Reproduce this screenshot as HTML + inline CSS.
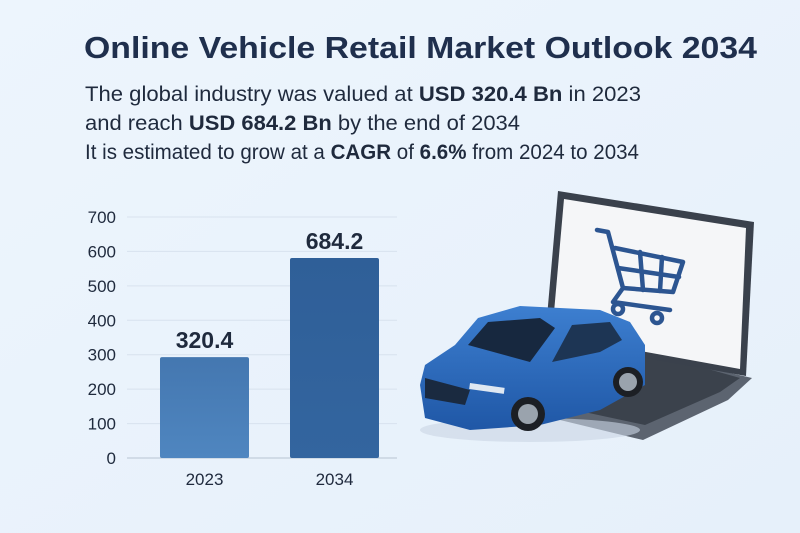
<!DOCTYPE html>
<html><head><meta charset="utf-8"><style>
html,body{margin:0;padding:0;width:800px;height:533px;overflow:hidden;background:#eaf3fc;font-family:"Liberation Sans",sans-serif;}
</style></head><body>
<svg width="800" height="533" viewBox="0 0 800 533" xmlns="http://www.w3.org/2000/svg">
<defs>
<linearGradient id="bg" x1="0" y1="0" x2="1" y2="1"><stop offset="0" stop-color="#edf5fd"/><stop offset="1" stop-color="#e6f0fa"/></linearGradient>
<linearGradient id="b1" x1="0" y1="0" x2="0" y2="1"><stop offset="0" stop-color="#4477b0"/><stop offset="1" stop-color="#4f86c0"/></linearGradient>
<linearGradient id="b2" x1="0" y1="0" x2="0" y2="1"><stop offset="0" stop-color="#2f5f98"/><stop offset="1" stop-color="#33659f"/></linearGradient>
<linearGradient id="car" x1="0" y1="0" x2="0" y2="1"><stop offset="0" stop-color="#3d7fd0"/><stop offset="1" stop-color="#1f57a6"/></linearGradient>
</defs>
<rect width="800" height="533" fill="url(#bg)"/>
<text x="84" y="58" font-size="31" font-weight="bold" fill="#1f2f4d" textLength="673" lengthAdjust="spacingAndGlyphs">Online Vehicle Retail Market Outlook 2034</text>
<g font-size="21" fill="#1f2a3d">
<text x="85" y="101" textLength="556" lengthAdjust="spacingAndGlyphs">The global industry was valued at <tspan font-weight="bold">USD 320.4 Bn</tspan> in 2023</text>
<text x="85" y="130" textLength="435" lengthAdjust="spacingAndGlyphs">and reach <tspan font-weight="bold">USD 684.2 Bn</tspan> by the end of 2034</text>
<text x="85" y="159" textLength="554" lengthAdjust="spacingAndGlyphs">It is estimated to grow at a <tspan font-weight="bold">CAGR</tspan> of <tspan font-weight="bold">6.6%</tspan> from 2024 to 2034</text>
</g>
<g id="chart"></g>
<g>
<polygon points="640,352 752,378 728,400 643,440 560,420" fill="#5c6470"/>
<polygon points="648,352 740,378 720,392 645,425 575,410" fill="#3b424c"/>
<polygon points="558,191 754,222 746,376 545,340" fill="#3a414c"/>
<polygon points="564,199 746,228 740,369 552,335" fill="#f5f6f8"/>
<g stroke="#2c5591" stroke-width="4.5" fill="none" stroke-linecap="round" stroke-linejoin="round">
<polyline points="597,230 608,232 623,288 673,292 683,262 615,248"/>
<line x1="640" y1="252" x2="643" y2="290"/><line x1="662" y1="257" x2="660" y2="291"/>
<line x1="618" y1="268" x2="679" y2="277"/>
<polyline points="623,288 613,302 670,310"/>
<circle cx="618" cy="309" r="5"/><circle cx="657" cy="318" r="5"/>
</g>
</g>
<g>
<ellipse cx="530" cy="430" rx="110" ry="12" fill="#c9d6e4" opacity="0.6"/>
<path d="M420,385 L425,365 L455,345 L478,318 L520,306 L600,310 L630,322 L645,345 L645,385 L600,410 L540,425 L470,430 L425,418 Z" fill="url(#car)"/>
<path d="M468,345 L488,322 L540,318 L555,328 L530,362 Z" fill="#17283f"/>
<path d="M552,362 L572,325 L610,322 L622,340 L600,352 Z" fill="#1d3554"/>
<path d="M425,378 L470,390 L465,405 L425,398 Z" fill="#1a2a40"/>
<rect x="470" y="383" width="35" height="6" fill="#dfe8f2" transform="rotate(8 470 383)"/>
<circle cx="528" cy="414" r="17" fill="#1c1f24"/>
<circle cx="528" cy="414" r="10" fill="#9aa3ad"/>
<circle cx="628" cy="382" r="15" fill="#1c1f24"/>
<circle cx="628" cy="382" r="9" fill="#9aa3ad"/>
</g>
<script>
var categories = ["2023", "2034"];
var barValues = [293, 581];
var valueLabels = ["320.4", "684.2"];
var yTicks = [0, 100, 200, 300, 400, 500, 600, 700];
var NS = "http://www.w3.org/2000/svg";
var g = document.getElementById("chart");
function y(v){ return 458 - v * (241/700); }
function xc(i){ return 204.5 + i * 130; }
function mk(tag, attrs){ var e = document.createElementNS(NS, tag); for (var k in attrs) e.setAttribute(k, attrs[k]); g.appendChild(e); return e; }
yTicks.forEach(function(t){
  var l = mk("line", {x1:127, x2:397, y1:y(t), y2:y(t), stroke: t===0 ? "#b8c4d2" : "#d8e2ee", "stroke-width":1});
  
  
  var tx = mk("text", {x:116, y:y(t)+6, "text-anchor":"end", "font-size":17, fill:"#1f2a3d"});
  tx.textContent = t;
  
  
});
categories.forEach(function(c, i){
  var top = y(barValues[i]);
  var r = mk("rect", {x:xc(i)-44.5, y:top, width:89, height:458-top, rx:2, fill: i===0 ? "url(#b1)" : "url(#b2)"});
  
  
  var vl = mk("text", {x:xc(i), y:top-9, "text-anchor":"middle", "font-size":23, "font-weight":"bold", fill:"#1f2a3d"});
  vl.textContent = valueLabels[i];
  
  
  var xl = mk("text", {x:xc(i), y:485, "text-anchor":"middle", "font-size":17, fill:"#1f2a3d"});
  xl.textContent = c;
  
  
});
</script>
</svg>
</body></html>
